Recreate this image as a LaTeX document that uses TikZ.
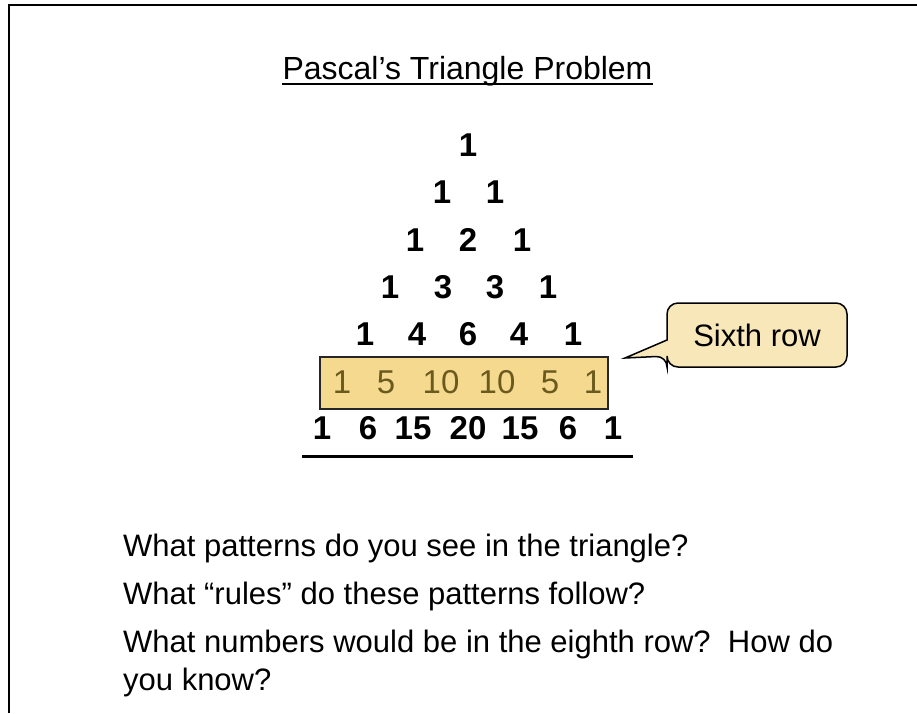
\documentclass[tikz,border=0pt]{standalone}
\usepackage{fontspec}
\setmainfont{Liberation Sans}
\definecolor{hlfill}{HTML}{F5D98F}
\definecolor{hltext}{HTML}{6B5A1E}
\definecolor{callfill}{HTML}{F8E7B8}
\begin{document}
\begin{tikzpicture}[x=1pt,y=-1pt,
  frame/.style={line width=2pt},
  num/.style={font=\fontsize{33}{33}\selectfont\bfseries, inner sep=0pt},
  hnum/.style={font=\fontsize{33}{33}\selectfont, text=hltext, inner sep=0pt},
  body/.style={font=\fontsize{31}{37}\selectfont, anchor=base west, inner sep=0pt},
  hlbox/.style={draw=black!85, line width=1.5pt, fill=hlfill, minimum width=288pt, minimum height=52pt, inner sep=0pt},
  callbox/.style={draw=black, line width=1.5pt, fill=callfill},
  rule/.style={line width=3pt}
]
\useasboundingbox (0,0) rectangle (917,713);
\draw[frame] (9,713) -- (9,5) -- (917,5);

% title
\node[anchor=base, inner sep=0pt, font=\fontsize{32}{32}\selectfont] (title) at (467.5,79)
  {Pascal’s Triangle Problem};
\draw[line width=2.5pt] ([yshift=-5pt]title.base west) -- ([yshift=-5pt]title.base east);

% triangle rows
\node[num] (a1) at (468,145) {1};
\node[num] (b1) at (442,192) {1};
\node[num] (b2) at (495,192) {1};
\node[num] (c1) at (415,240) {1};
\node[num] (c2) at (468,240) {2};
\node[num] (c3) at (522,240) {1};
\node[num] (d1) at (390,287) {1};
\node[num] (d2) at (443,287) {3};
\node[num] (d3) at (495,287) {3};
\node[num] (d4) at (548,287) {1};
\node[num] (e1) at (365,334) {1};
\node[num] (e2) at (417,334) {4};
\node[num] (e3) at (468,334) {6};
\node[num] (e4) at (519,334) {4};
\node[num] (e5) at (573,334) {1};

\node[hlbox] (hl) at (464,383) {};
\node[hnum] (f1) at (342,382) {1};
\node[hnum] (f2) at (386,382) {5};
\node[hnum] (f3) at (441,382) {10};
\node[hnum] (f4) at (497,382) {10};
\node[hnum] (f5) at (550,382) {5};
\node[hnum] (f6) at (593,382) {1};

\node[num] (g1) at (322,428) {1};
\node[num] (g2) at (368,428) {6};
\node[num] (g3) at (413,428) {15};
\node[num] (g4) at (468,428) {20};
\node[num] (g5) at (520,428) {15};
\node[num] (g6) at (568,428) {6};
\node[num] (g7) at (613,428) {1};

\coordinate (rl) at (302,456);
\coordinate (rr) at (633,456);
\draw[rule] (rl) -- (rr);

% callout
\draw[callbox] (625,358) -- (667,340) [rounded corners=11pt] -- (667,303) -- (847,303) -- (847,367) -- (667,367) -- (667,356) [sharp corners] -- cycle;
\node[inner sep=0pt, font=\fontsize{31}{31}\selectfont] (call) at (757,335) {Sixth row};

% questions
\node[body] (q1) at (123,556) {What patterns do you see in the triangle?};
\node[body] (q2) at (123,604) {What “rules” do these patterns follow?};
\node[body] (q3) at (123,652) {What numbers would be in the eighth row?\ \ How do};
\node[body] (q4) at (123,690) {you know?};
\end{tikzpicture}
\end{document}
